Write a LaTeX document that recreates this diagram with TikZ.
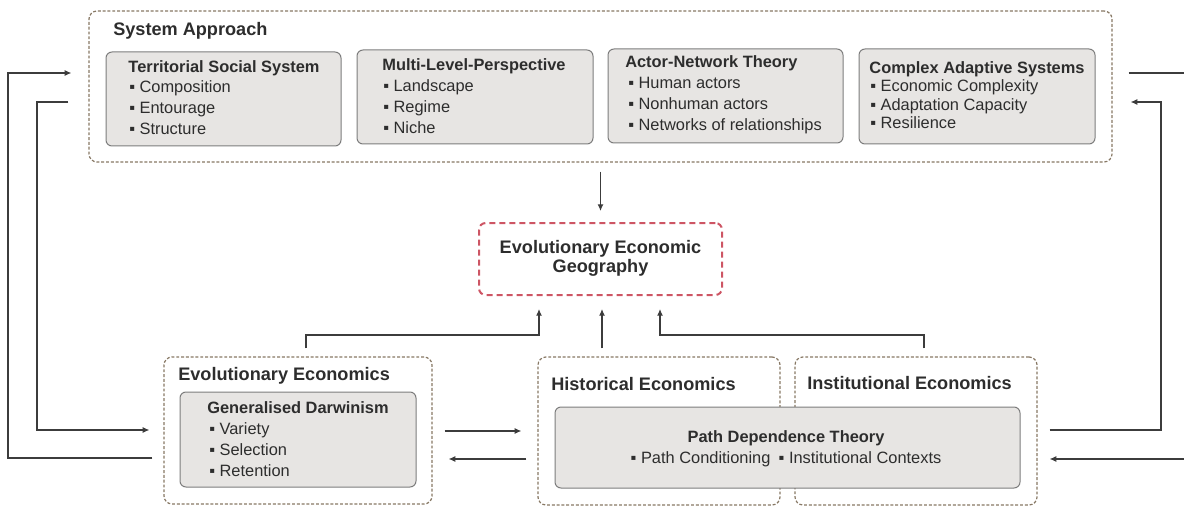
\documentclass[tikz,border=0pt]{standalone}
\usepackage{fontspec}
\setmainfont{Liberation Sans}
\usetikzlibrary{arrows.meta,fit}
\definecolor{framecol}{RGB}{135,120,100}
\definecolor{boxfill}{RGB}{231,229,227}
\definecolor{boxline}{RGB}{125,125,125}
\definecolor{eegred}{RGB}{205,85,100}
\definecolor{linkcol}{RGB}{60,60,60}
\definecolor{txt}{RGB}{45,45,45}
\newcommand\grpfont{\fontsize{13.6}{14.25}\selectfont\bfseries}
\newcommand\thyfont{\fontsize{12.3}{15.75}\selectfont\bfseries}
\newcommand\itmfont{\fontsize{12.3}{15.75}\selectfont\mdseries}
\tikzset{%
  groupframe/.style = {draw=framecol, line width=0.9pt, dash pattern=on 2.2pt off 1.4pt,%
                       rounded corners=6pt, inner sep=0pt},%
  theory/.style     = {draw=boxline, line width=0.75pt, fill=boxfill,%
                       rounded corners=4.5pt, inner sep=0pt},%
  target/.style     = {draw=eegred, line width=1.5pt, dash pattern=on 4.5pt off 3pt,%
                       rounded corners=5pt, inner sep=0pt},%
  heading/.style    = {anchor=west, inner sep=0pt, font=\grpfont, text=txt},%
  subhead/.style    = {inner sep=0pt, font=\thyfont, text=txt},%
  items/.style      = {anchor=base west, inner sep=0pt, align=left, font=\itmfont, text=txt},%
  caption/.style    = {anchor=base, inner sep=0pt, align=center, text=txt},%
  link/.style       = {draw=linkcol, line width=0.9pt, -{Latex[length=5pt,width=4.5pt]}}%
}
\begin{document}
\begin{tikzpicture}[x=0.75pt,y=-0.75pt]
	\useasboundingbox (0,0) rectangle (1184,506);
	\node[groupframe, fit={(89,11) (1112,162)}] (sa) {};
	\node[heading] (satitle) at (113,31) {System Approach};
	\node[theory, fit={(106,52) (341,146)}] (tss) {};
	\node[subhead] (tsstitle) at (224,68) {Territorial Social System};
	\node[items] (tssitems) at (129,135) {▪ Composition\\▪ Entourage\\▪ Structure};
	\node[theory, fit={(357,50) (593,144)}] (mlp) {};
	\node[subhead] (mlptitle) at (474,66) {Multi-Level-Perspective};
	\node[items] (mlpitems) at (383,134) {▪ Landscape\\▪ Regime\\▪ Niche};
	\node[theory, fit={(608,49) (843,143)}] (ant) {};
	\node[subhead, anchor=west] (anttitle) at (625,63) {Actor-Network Theory};
	\node[items] (antitems) at (628,131) {▪ Human actors\\▪ Nonhuman actors\\▪ Networks of relationships};
	\node[theory, fit={(859,49) (1095,144)}] (cas) {};
	\node[subhead] (castitle) at (977,69) {Complex Adaptive Systems};
	\node[items, font=\fontsize{12.3}{13.9}\selectfont] (casitems) at (870,129) {▪ Economic Complexity\\▪ Adaptation Capacity\\▪ Resilience};
	\node[target, fit={(479,223) (722,295)}] (eeg) {};
	\node[caption, font=\grpfont] (eegtext) at (600.5,272) {Evolutionary Economic\\Geography};
	\node[groupframe, fit={(164,357) (432,504)}] (eve) {};
	\node[heading] (evetitle) at (178,376) {Evolutionary Economics};
	\node[theory, fit={(180,392) (416,487)}] (gd) {};
	\node[subhead] (gdtitle) at (298,408) {Generalised Darwinism};
	\node[items] (gditems) at (209,476) {▪ Variety\\▪ Selection\\▪ Retention};
	\node[groupframe, fit={(538,357) (780,505)}] (he) {};
	\node[heading] (hetitle) at (551,384) {Historical Economics};
	\node[groupframe, fit={(795,357) (1037,505)}] (ie) {};
	\node[heading] (ietitle) at (807,383) {Institutional Economics};
	\node[theory, fit={(555,407) (1020,488)}] (pdt) {};
	\node[caption, font=\itmfont] (pdttext) at (786,463) {{\thyfont Path Dependence Theory}\\
		▪ Path Conditioning\enspace ▪ Institutional Contexts};
	\draw[link, shorten <=8.25pt, shorten >=12.75pt] (eve.west |- 0,458) -| (8,73) -- (sa.west |- 0,73);
	\draw[link, shorten <=15pt, shorten >=10.5pt] (sa.west |- 0,102) -| (37,430) -- (eve.west |- 0,430);
	\draw[link, shorten <=9pt, shorten >=13.5pt] (ie.east |- 0,430) -| (1161,102) -- (sa.east |- 0,102);
	\draw[link, shorten <=12pt, shorten >=9pt] (sa.east |- 0,73) -| (1210,459) -- (ie.east |- 0,459);
	\draw[link, shorten <=9pt, shorten >=12pt] (eve.east |- 0,431) -- (he.west |- 0,431);
	\draw[link, shorten <=8.25pt, shorten >=12pt] (he.west |- 0,459) -- (eve.east |- 0,459);
	\draw[link, shorten <=6.75pt, shorten >=8.25pt] (sa.south) -- (eeg.north);
	\draw[link, shorten <=6pt, shorten >=9.75pt] (306,0 |- eve.north) |- (539,335) -- (539,0 |- eeg.south);
	\draw[link, shorten <=6pt, shorten >=9.75pt] (602,0 |- he.north) -- (602,0 |- eeg.south);
	\draw[link, shorten <=6pt, shorten >=9.75pt] (924,0 |- ie.north) |- (660,335) -- (660,0 |- eeg.south);
\end{tikzpicture}
\end{document}
